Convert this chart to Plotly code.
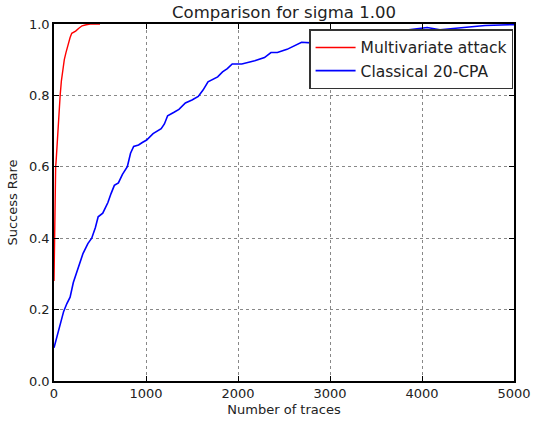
import plotly.graph_objects as go

# Multivariate attack (red)
red_x = [0, 3, 7, 12, 18, 24, 32, 42, 53, 67, 80, 95, 112, 130, 145, 158, 175, 193, 215, 235, 270, 305, 350, 393, 450, 500]
red_y = [0.28, 0.36, 0.475, 0.55, 0.60, 0.62, 0.66, 0.684, 0.738, 0.80, 0.84, 0.875, 0.90, 0.92, 0.935, 0.947, 0.962, 0.974, 0.977, 0.98, 0.988, 0.995, 0.998, 1.0, 1.0, 1.0]

# Classical 20-CPA (blue)
blue_x = [0, 28, 63, 105, 140, 175, 210, 245, 280, 315, 368, 410, 450, 480, 530, 586, 620, 656, 700, 744, 797, 832, 866, 919,
          960, 1007, 1077, 1165, 1200, 1235, 1300, 1358, 1428, 1500, 1568, 1620, 1674, 1779, 1832, 1884, 1937, 2042, 2182,
          2288, 2358, 2428, 2533, 2603, 2691, 2796, 3000, 3300, 3550, 3744, 3986, 4056, 4195, 4405, 4686, 4966, 5000]
blue_y = [0.093, 0.122, 0.158, 0.195, 0.217, 0.235, 0.276, 0.303, 0.33, 0.357, 0.385, 0.40, 0.43, 0.46, 0.47, 0.50, 0.525, 0.548,
          0.555, 0.579, 0.60, 0.638, 0.657, 0.661, 0.668, 0.675, 0.693, 0.707, 0.72, 0.743, 0.752, 0.761, 0.779, 0.787, 0.797,
          0.815, 0.838, 0.852, 0.866, 0.875, 0.888, 0.888, 0.897, 0.906, 0.92, 0.92, 0.929, 0.938, 0.949, 0.947, 0.955, 0.968,
          0.976, 0.980, 0.987, 0.99, 0.984, 0.989, 0.996, 0.998, 0.998]

x_ticks = [0, 1000, 2000, 3000, 4000, 5000]
y_ticks = [0.0, 0.2, 0.4, 0.6, 0.8, 1.0]
y_tick_labels = ["0.0", "0.2", "0.4", "0.6", "0.8", "1.0"]

fig = go.Figure()
fig.add_trace(go.Scatter(x=red_x, y=red_y, mode="lines", name="Multivariate attack",
                         line=dict(color="#ff0000", width=1.4)))
fig.add_trace(go.Scatter(x=blue_x, y=blue_y, mode="lines", name="Classical 20-CPA",
                         line=dict(color="#0000ff", width=1.6)))

axis_common = dict(
    showline=True, linecolor="black", linewidth=1.5, mirror="ticks",
    ticks="inside", ticklen=5, tickcolor="black",
    showgrid=True, gridcolor="#888888", griddash="dot", gridwidth=1,
    zeroline=False, tickfont=dict(size=13, color="#222222"),
)

fig.update_layout(
    width=543, height=427,
    margin=dict(l=51, r=17, t=24, b=36),
    paper_bgcolor="white", plot_bgcolor="white",
    font=dict(family="DejaVu Sans", color="#222222"),
    title=dict(text="Comparison for sigma 1.00", x=0.5, xref="paper", xanchor="center",
               y=0.958, yref="container", yanchor="bottom",
               font=dict(size=16.5, color="#222222")),
    xaxis=dict(range=[0, 5000], tickvals=x_ticks,
               title=dict(text="Number of traces", font=dict(size=13), standoff=5), **axis_common),
    yaxis=dict(range=[0, 1.0], tickvals=y_ticks, ticktext=y_tick_labels,
               title=dict(text="Success Rare", font=dict(size=13), standoff=8), **axis_common),
    legend=dict(x=0.998, y=0.985, xanchor="right", yanchor="top",
                bgcolor="white", bordercolor="#333333", borderwidth=1.5,
                font=dict(size=15.5, color="#222222"), itemwidth=40,
                tracegroupgap=0),
    showlegend=True,
)

fig.write_html(
    "out.html",
    config={"displayModeBar": False},
    post_script="document.body.style.margin='0';document.documentElement.style.overflow='hidden';document.body.style.overflow='hidden';",
)
